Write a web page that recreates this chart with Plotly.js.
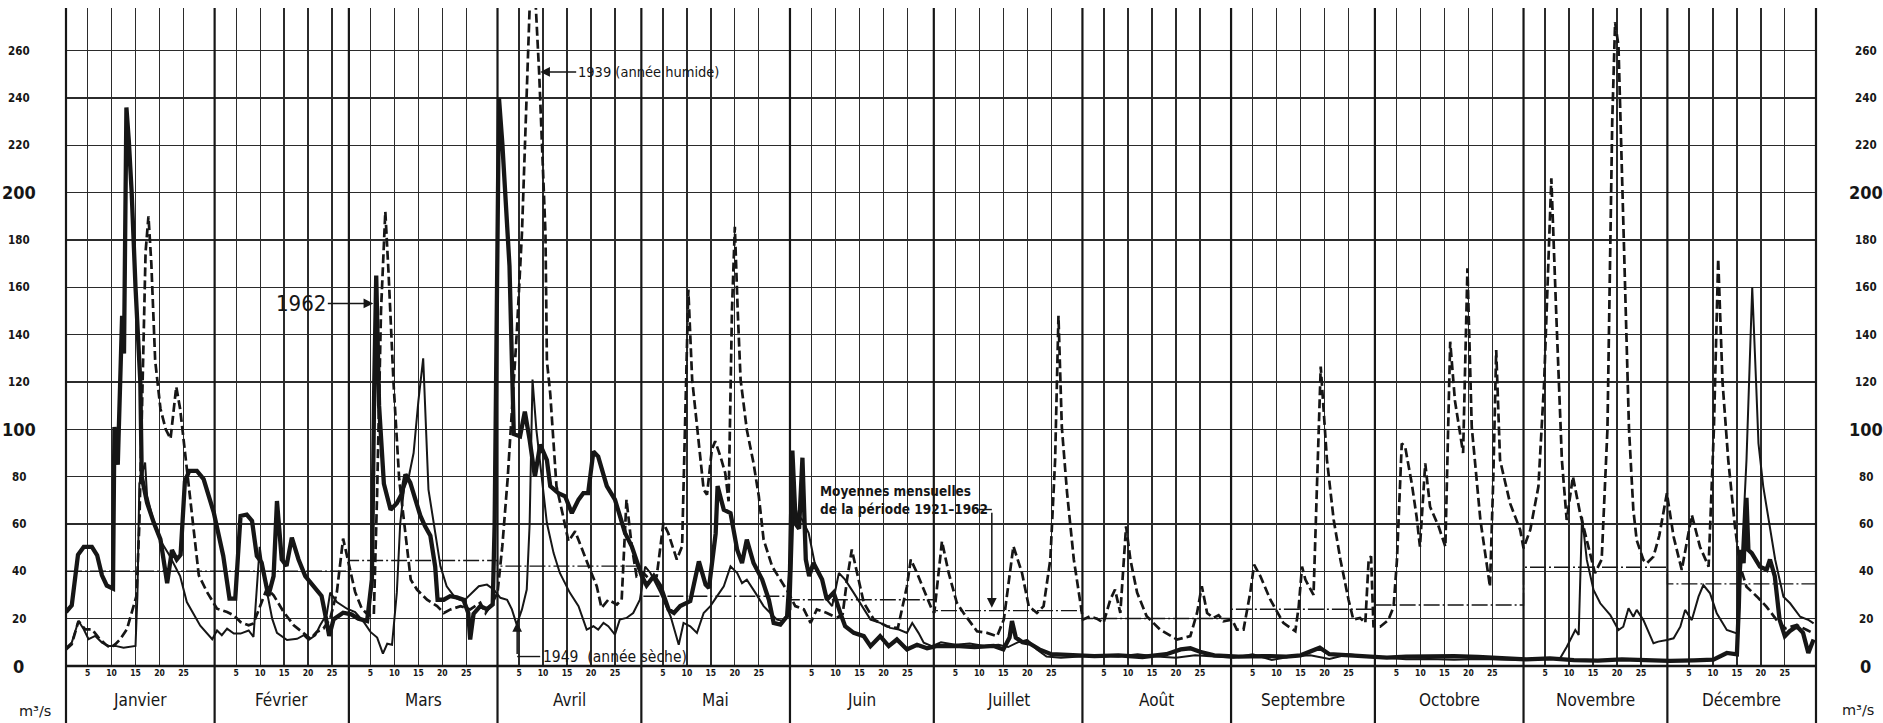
<!DOCTYPE html>
<html><head><meta charset="utf-8">
<script src="https://cdn.plot.ly/plotly-3.0.1.min.js"></script>
<style>html,body{margin:0;padding:0;background:#fff;}#chart{width:1883px;height:723px;}</style>
</head><body><div id="chart"></div>
<script>
// ---- categories / ticks ----
const monthNames = ['Janvier','Février','Mars','Avril','Mai','Juin','Juillet','Août','Septembre','Octobre','Novembre','Décembre'];
const monthLengths = [31,28,31,30,31,30,31,31,30,31,30,31];
const dayTicks = [5,10,15,20,25];
const yTicks = [0,20,40,60,80,100,120,140,160,180,200,220,240,260];
const bigTicks = [0,100,200];
// monthly means 1921-1962 (m3/s)
const meanMonthly = [40,40,44.6,42.2,29.5,28,23.4,20.1,24,25.8,41.7,34.7];

// daily discharge [day of year, m3/s]
const q1962 = [[0.5,22.8],[1.7,25.6],[3.0,47],[4.2,50.3],[5.9,50.3],[7.0,46.8],[8.0,38.3],[9.0,34],[10.3,32.7],[10.6,101],[11.3,85],[11.8,130],[12.2,148],[12.6,132],[13.1,236],[13.6,222],[14.2,200],[15.0,160],[16.0,120],[16.3,80],[17.4,69],[18.8,60.6],[20.2,53.5],[21.6,35],[22.6,49],[23.6,45],[24.4,47],[25.3,78],[26.2,82.4],[27.8,82.4],[29.2,79],[31.3,65],[33.3,46.5],[34.6,28.5],[35.8,28.5],[36.9,63.4],[38.2,64],[39.3,61.3],[40.3,46.5],[41.3,43.7],[42.7,29.6],[43.8,38],[44.5,69.7],[45.5,45],[46.5,42.3],[47.6,54.2],[49.0,45],[50.4,38],[52.8,32.4],[53.8,29.6],[54.5,22.5],[55.4,12.7],[56.3,19.7],[58.3,22.5],[60.0,21.8],[61.5,20],[63.3,19],[64.3,36.5],[64.8,120],[65.2,165],[65.8,110],[66.8,77],[68.2,66],[69.5,68.8],[70.6,73],[71.3,81],[72.3,77.5],[73.3,70.5],[74.4,63.5],[75.4,59],[76.5,55],[77.5,42],[78.0,28],[79.3,28],[80.6,29.5],[82.0,29],[83.4,28],[84.4,22.4],[84.8,11.2],[85.5,22],[86.9,25.3],[88.3,24],[89.5,26],[89.9,60],[90.3,150],[90.8,240],[91.5,221],[92.2,197],[93.0,169],[93.5,129],[93.9,98],[95.2,97],[96.2,107.5],[97.2,95.6],[98.3,80],[99.4,93.5],[100.8,87],[101.5,76],[103.2,73],[104.6,71.7],[106.0,64.6],[107.4,70.3],[108.4,73],[109.4,73],[110.5,90.6],[111.5,88.5],[113.3,76],[115.0,70.3],[116.0,63.2],[117.1,56.2],[118.5,50.6],[119.9,42.1],[120.6,38],[121.6,34],[123.1,38],[124.5,33.7],[126.2,23.8],[127.3,22.4],[128.6,25.3],[130.7,27.4],[132.5,44.2],[133.9,34.4],[134.6,33],[136.0,56],[136.4,76],[137.7,66],[139.1,64.6],[140.5,49],[141.5,43.5],[142.5,53.4],[143.9,43.5],[145.7,36.5],[147.1,28],[148.1,18.2],[149.5,17.5],[150.9,21],[151.5,40],[152.0,91],[152.7,60],[153.4,58],[154.1,88],[154.8,45],[155.5,38],[156.4,43.5],[158.2,36.5],[159.2,28],[160.6,31],[162.0,22.4],[163.0,16.8],[164.8,14],[166.9,12.6],[168.3,8.4],[170.3,12.6],[172.1,8.4],[173.8,11.2],[175.9,7],[178.0,9],[180.1,7.5],[182,8.4],[186,8.5],[190,8],[194,8.5],[196,7],[197.3,12],[197.8,19],[198.6,12],[200,10],[201.5,9.5],[203.5,7],[206,5],[210,4.5],[215,4.2],[220,4.5],[225,3.8],[230,5],[233,7],[235,7.5],[237,6],[240,4.5],[245,4],[250,4.2],[255,4],[258,4.5],[262,7.7],[264,5],[268,4.5],[272,4],[276,3.5],[280,4],[285,4.3],[290,4.2],[295,3.8],[300,3.5],[305,2.8],[310,3.2],[315,2.5],[320,2.3],[325,2.8],[330,2.5],[335,2.2],[340,2.4],[344.1,2.7],[346.9,5.5],[349.0,4.9],[349.4,25],[349.7,49],[350.4,43.5],[351.0,71],[351.4,49],[352.1,47.7],[353.8,42],[355.2,40.7],[355.9,45],[356.9,38],[357.9,19.6],[359.0,12.6],[360.0,14.7],[361.5,16.8],[362.8,14],[363.9,5.5],[365.0,11.2]];

const q1949 = [[0.5,7.7],[1.7,9.9],[3.1,19],[4.2,15.5],[5.2,11.3],[6.6,12.7],[8.0,9.9],[9.4,8.5],[10.8,8.5],[12.5,7.7],[15.0,8.5],[15.4,30],[15.8,77],[17.0,86],[17.4,72],[18.4,64],[19.5,57],[20.5,52],[22.0,47],[23.0,43],[24.3,38],[25.7,27],[28.5,17],[31.0,11.3],[32.0,15],[33.0,13],[34.1,15.8],[35.5,13.7],[36.9,13.7],[38.6,15],[39.6,12.3],[40.2,30],[40.9,50.3],[41.6,40],[42.4,31.3],[43.5,20],[44.5,14],[46.6,11],[48.7,11.5],[50.1,13],[51.1,11],[52.5,13],[53.5,17.2],[54.9,22],[55.6,31],[57.0,27],[59.1,24.2],[60.8,22.8],[62.6,18.6],[64.0,14.4],[65.4,12],[66.6,5.2],[67.5,9.4],[68.5,9],[69.5,31],[70.2,60],[71.0,75],[72.0,80],[73.0,90],[74.0,112],[75.0,130],[75.5,105],[76.1,74.5],[77.2,60.4],[78.6,42.1],[79.9,33.7],[81.7,28.8],[83.4,27.4],[85.2,30.9],[86.6,33.7],[88.3,34.4],[89.7,32.3],[91.1,28.8],[92.5,28],[93.5,23.9],[94.5,17.5],[95.6,23.9],[96.6,32.3],[97.2,60],[97.8,121],[98.6,100],[99.4,85.7],[100.8,60.4],[102.2,47.7],[103.5,39.3],[105.6,30.9],[107.4,25.3],[109.1,15.4],[110.5,16.8],[111.5,15.4],[112.6,18.2],[113.6,16.8],[115.0,13.3],[116.0,19.6],[117.4,20.3],[118.8,22.4],[120.2,28],[121.3,42],[122.4,39.3],[124.5,30.9],[126.6,21],[128.3,9],[129.3,18.2],[130.7,16.8],[132.1,14],[133.5,22.4],[134.9,25.3],[136.3,29.5],[137.7,33.7],[139.1,42.1],[140.5,39.3],[141.5,35],[142.5,36.5],[144.3,30.9],[146.0,25.3],[147.4,22.4],[148.8,19.6],[150.2,19],[151.6,23.9],[152.3,70],[153.0,64],[154.0,62],[155.4,56.2],[156.8,42.1],[158.2,36.5],[159.2,28],[160.3,25.3],[161.7,39.3],[163.0,36.5],[164.8,30.9],[166.5,25.3],[168.3,19.6],[170.3,18.2],[172.4,16.1],[174.2,15.4],[175.9,14],[177.0,18.2],[178.3,14],[179.4,9.8],[181.1,8.4],[183,10],[186,9],[189,9.5],[192,8.5],[195,9],[197,8],[199,10],[201,11],[203,7],[205,4],[208,3.5],[212,4],[216,4.5],[220,4],[224,5],[228,4],[232,3.5],[236,4.5],[240,4],[244,3.5],[248,5],[252,2.5],[256,4],[260,4.5],[264,3],[268,5],[272,4],[276,3.3],[280,2.8],[285,3],[290,2.6],[295,3],[300,2.8],[305,2.5],[310,3],[312.1,3.2],[313.5,8],[314.6,12.4],[315.3,15.2],[316.0,13.1],[316.7,63],[317.7,44.8],[319.1,32.1],[320.5,26.5],[322.6,21.5],[324.3,15.2],[325.3,16.6],[326.4,24.4],[327.4,20.8],[328.1,23.7],[329.5,19.4],[331.6,9.6],[332.6,10.3],[334.4,11],[335.8,11.7],[337.2,16.6],[338.2,23.7],[339.6,19.4],[341.0,29.3],[342.0,34.2],[343.4,30.7],[344.8,22.3],[346.9,15.2],[349.0,13.8],[350.0,44.8],[351.0,87],[352.2,160],[353.0,120],[353.5,94],[354.5,75.8],[355.6,61.7],[357.0,44.8],[358.7,29.3],[360.1,26.5],[362.2,20.8],[364.0,19.4],[365.0,18]];

const q1939 = [[0.5,7],[1.7,9.2],[3.1,19],[4.5,15.5],[5.9,15.5],[7.3,12],[8.7,9.2],[9.7,7.7],[10.8,9.2],[11.8,11.3],[13.2,15.5],[14.6,25.4],[15.2,29.6],[15.8,60],[16.5,120],[17.1,175],[17.7,190],[18.3,170],[19.1,129],[20.2,108.7],[21.3,100],[22.3,96],[23.5,118],[24.3,108.7],[25.7,83.4],[27.1,59.4],[28.2,38.3],[29.9,31.3],[32.0,24.2],[34.1,22.8],[35.5,21.4],[36.9,18.6],[38.6,17.2],[39.6,18],[41.0,25.6],[42.4,32.7],[43.8,29.9],[45.9,22.8],[48.0,17.2],[49.7,14.4],[51.5,11.5],[52.8,14.4],[54.2,15.8],[55.6,20],[57.0,31.3],[58.3,53.8],[59.5,42.5],[60.8,31.3],[62.2,24.2],[63.6,21.4],[64.7,21.4],[65.4,73.5],[66.2,150],[67.1,192],[67.8,165],[68.8,120],[70.0,78.7],[71.0,60.4],[72.4,36.5],[73.7,32.3],[75.8,28],[77.9,25.3],[79.3,22.4],[80.7,23.9],[82.8,25.3],[84.8,23.9],[86.9,26.7],[88.0,22.4],[89.4,26.7],[90.5,30.9],[91.5,50.6],[92.6,78.7],[93.2,97],[94.5,140],[95.6,183],[96.6,239],[97.4,290],[98.2,290],[99.2,250],[100.5,183],[100.8,129],[101.5,115],[102.8,75.9],[104.2,63.2],[105.3,52.7],[106.7,56.9],[108.1,49.2],[109.8,40.7],[111.2,33.7],[112.2,24.5],[113.6,28],[115.4,26],[116.4,28],[117.4,70.3],[118.5,50.6],[119.5,37.9],[120.9,39.3],[122.3,36.5],[123.7,37.9],[125.1,60.4],[126.1,56.2],[127.9,45],[129.0,50.6],[129.7,110],[130.3,159],[131.1,121],[132.5,92.8],[133.5,74.5],[134.2,72.4],[135.2,91.4],[135.9,95],[137.0,88.5],[138.0,81.5],[138.7,69.6],[139.4,150],[140.0,185.6],[140.6,150],[141.2,121],[142.5,99.8],[143.9,85.7],[145.0,71.7],[146.0,53.4],[147.8,42],[149.5,36.5],[151.2,30.9],[152.6,25.3],[154.4,23.9],[155.8,18.2],[157.1,23.9],[159.2,22.4],[161.3,20.3],[162.5,22],[163.4,36.5],[164.4,49.2],[165.5,39.3],[166.9,26.7],[169.0,19.6],[171.7,16.8],[174.0,16],[175.9,33.7],[176.7,45],[178.0,39.3],[179.4,32.3],[181.1,23.9],[181.6,22.4],[183.2,52.7],[184.6,39.3],[186.3,26.7],[187.7,22.4],[190.5,14.7],[192.6,14],[194.7,12.6],[196.1,19.6],[198.1,50.6],[199.9,39.3],[201.3,25.3],[203.0,22.4],[204.4,25.3],[205.8,45],[206.8,87],[207.5,148],[208.2,101],[209.3,73],[210.7,45],[212.6,19.6],[214.1,21],[215.5,20],[216.9,18.2],[218.3,28],[219.3,32.3],[220.4,22.4],[221.6,59],[222.5,45],[223.9,31],[225.9,21],[228.7,15.4],[232.2,11.2],[235.0,12.6],[236.4,22.4],[237.4,33.7],[238.5,22.4],[239.8,20.3],[240.9,21.5],[241.9,18.9],[243.7,19.6],[244.7,15.4],[246.1,15.4],[247.5,31],[248.3,42.8],[249.6,38],[251.7,28],[254.4,18.2],[256.9,14.7],[257.6,25],[258.3,42],[259.0,36.5],[260.7,30],[261.5,80],[262.2,126.5],[263.5,87],[264.9,61.8],[266.3,45],[268.0,28],[269.0,19.6],[270.4,20.3],[271.5,18.2],[272.2,45],[272.7,46.3],[273.2,16.8],[274.6,16.6],[276.3,19.4],[277.4,25],[278.1,44.8],[279.1,94],[279.8,92.7],[281.2,77],[282.2,63],[282.9,50.4],[284.0,85.6],[285.0,67.3],[286.8,58.9],[288.2,50.4],[289.2,137],[290.2,112],[291.9,90],[292.8,168],[293.7,101],[295.5,61.7],[296.8,42],[297.5,33.5],[298.2,80],[298.8,133.5],[299.6,87],[301.7,68.7],[303.8,57.5],[304.5,49.7],[305.9,57.5],[307.6,75.8],[308.8,120],[310.3,206],[311.3,150],[312.5,87],[313.5,61.7],[314.8,80],[316.3,64.5],[318.0,50.4],[319.4,39.2],[320.8,45],[322.0,100],[323.0,230],[323.6,272],[324.3,262],[325.0,210],[326.5,100],[327.4,66],[328.1,53.2],[329.5,44.8],[330.2,43.4],[331.6,46.2],[332.8,55],[334.4,73],[335.8,54.6],[337.5,40.6],[339.6,63.8],[341.3,50.4],[343.1,42],[344.2,100],[345.1,172],[346.0,120],[347.2,87],[348.6,58.9],[349.7,42],[351.0,33.5],[353.2,29.3],[355.2,25],[357.3,19.4],[359.1,15.9],[361.5,17.3],[363.6,15.2],[365.0,13.8]];

// ---- derived ----
const monthStart = [0];
monthLengths.forEach((l,i)=>monthStart.push(monthStart[i]+l));
const gridVals = [], gridText = [];
for (let m=0;m<12;m++) dayTicks.forEach(d=>{gridVals.push(monthStart[m]+d); gridText.push(String(d));});

const INK = '#161616';
const condensed = 'DejaVu Sans Condensed, Liberation Sans Narrow, DejaVu Sans, sans-serif';
const plain = 'DejaVu Sans, Liberation Sans, sans-serif';

const traces = [];
// monthly means as step line
const mx = monthStart.map(s=>s+0.5);
const my = meanMonthly.concat([meanMonthly[11]]);
traces.push({x:mx,y:my,type:'scatter',mode:'lines',line:{shape:'hv',color:INK,width:1.4,dash:'16px,3px,2px,3px'},hoverinfo:'skip'});
traces.push({x:q1949.map(p=>p[0]),y:q1949.map(p=>p[1]),type:'scatter',mode:'lines',line:{color:INK,width:2},hoverinfo:'skip'});
traces.push({x:q1939.map(p=>p[0]),y:q1939.map(p=>p[1]),type:'scatter',mode:'lines',line:{color:INK,width:2.7,dash:'9px,4px'},hoverinfo:'skip'});
traces.push({x:q1962.map(p=>p[0]),y:q1962.map(p=>p[1]),type:'scatter',mode:'lines',line:{color:INK,width:4.3},hoverinfo:'skip'});

const plotH = 723-8-57;
const bottomPaper = -57/plotH;
const shapes = [];
monthStart.forEach(s=>{
  shapes.push({type:'line',xref:'paper',yref:'paper',x0:s/365,x1:s/365,y0:bottomPaper,y1:1,line:{color:INK,width:2.2}});
});
shapes.push({type:'line',xref:'paper',yref:'paper',x0:0,x1:1,y0:0,y1:0,line:{color:INK,width:2.6}});
// connector lines for callouts
shapes.push({type:'line',xref:'x',yref:'y',x0:94.6,x1:99.4,y0:4.0,y1:4.0,line:{color:INK,width:1.4}});
shapes.push({type:'line',xref:'x',yref:'y',x0:190.8,x1:193.6,y0:66.1,y1:66.1,line:{color:INK,width:1.4}});

const ann = [];
yTicks.forEach(v=>{
  const big = bigTicks.includes(v);
  const f = big ? {family:condensed,size:18,color:INK,weight:'bold'} : {family:condensed,size:11.5,color:INK,weight:'bold'};
  ann.push({xref:'paper',yref:'y',x:(18.5-65.7)/1750.3,y:v,text:String(v),showarrow:false,xanchor:'center',yanchor:'middle',font:f});
  ann.push({xref:'paper',yref:'y',x:(1866-65.7)/1750.3,y:v,text:String(v),showarrow:false,xanchor:'center',yanchor:'middle',font:f});
});
monthNames.forEach((n,i)=>{
  ann.push({xref:'paper',yref:'paper',x:(monthStart[i]+monthLengths[i]/2)/365,y:(666.5-701)/plotH,text:n,showarrow:false,xanchor:'center',yanchor:'middle',font:{family:condensed,size:17,color:INK}});
});
ann.push({xref:'paper',yref:'paper',x:(35-65.7)/1750.3,y:(666.5-711)/plotH,text:'m³/s',showarrow:false,xanchor:'center',yanchor:'middle',font:{family:plain,size:14.5,color:INK}});
ann.push({xref:'paper',yref:'paper',x:(1858-65.7)/1750.3,y:(666.5-710)/plotH,text:'m³/s',showarrow:false,xanchor:'center',yanchor:'middle',font:{family:plain,size:14.5,color:INK}});
// callouts
ann.push({xref:'x',yref:'y',x:64.6,y:153.2,ax:-72,ay:0,text:'1962',showarrow:true,arrowhead:2,arrowsize:1.3,arrowwidth:1.5,arrowcolor:INK,standoff:0,font:{family:condensed,size:22,color:INK}});
ann.push({xref:'x',yref:'y',x:99.4,y:251,ax:108,ay:0,text:'1939 (année humide)',showarrow:true,arrowhead:2,arrowsize:1.3,arrowwidth:1.5,arrowcolor:INK,standoff:0,font:{family:condensed,size:14.5,color:INK}});
ann.push({xref:'x',yref:'y',x:94.6,y:18.6,ax:0,ay:35,text:' ',showarrow:true,arrowhead:2,arrowsize:1.3,arrowwidth:1.5,arrowcolor:INK,standoff:0,font:{size:2}});
ann.push({xref:'x',yref:'y',x:99.5,y:4.0,text:'1949  (année sèche)',showarrow:false,xanchor:'left',yanchor:'middle',font:{family:condensed,size:15.5,color:INK}});
ann.push({xref:'x',yref:'y',x:157.4,y:70.2,text:'Moyennes mensuelles<br>de la période 1921–1962',showarrow:false,xanchor:'left',yanchor:'middle',align:'left',font:{family:condensed,size:13.5,color:INK,weight:'bold'}});
ann.push({xref:'x',yref:'y',x:193.6,y:24.6,ax:0,ay:-98,text:' ',showarrow:true,arrowhead:2,arrowsize:1.3,arrowwidth:1.5,arrowcolor:INK,standoff:0,font:{size:2}});

const layout = {
  width:1883,height:723,margin:{l:66,r:67,t:8,b:57,pad:0},
  paper_bgcolor:'#fff',plot_bgcolor:'#fff',showlegend:false,
  xaxis:{range:[0.5,365.5],tickvals:gridVals,ticktext:gridText,showgrid:true,gridcolor:'#2b2b2b',gridwidth:1.3,zeroline:false,showline:false,ticks:'',tickfont:{family:condensed,size:8.5,color:INK,weight:'bold'},fixedrange:true},
  yaxis:{range:[0,278],tickvals:yTicks,showgrid:true,gridcolor:'#2b2b2b',gridwidth:1.3,zeroline:false,showline:false,showticklabels:false,ticks:'',fixedrange:true},
  shapes:shapes,annotations:ann
};
Plotly.newPlot('chart',traces,layout,{staticPlot:true,displayModeBar:false});
</script></body></html>
